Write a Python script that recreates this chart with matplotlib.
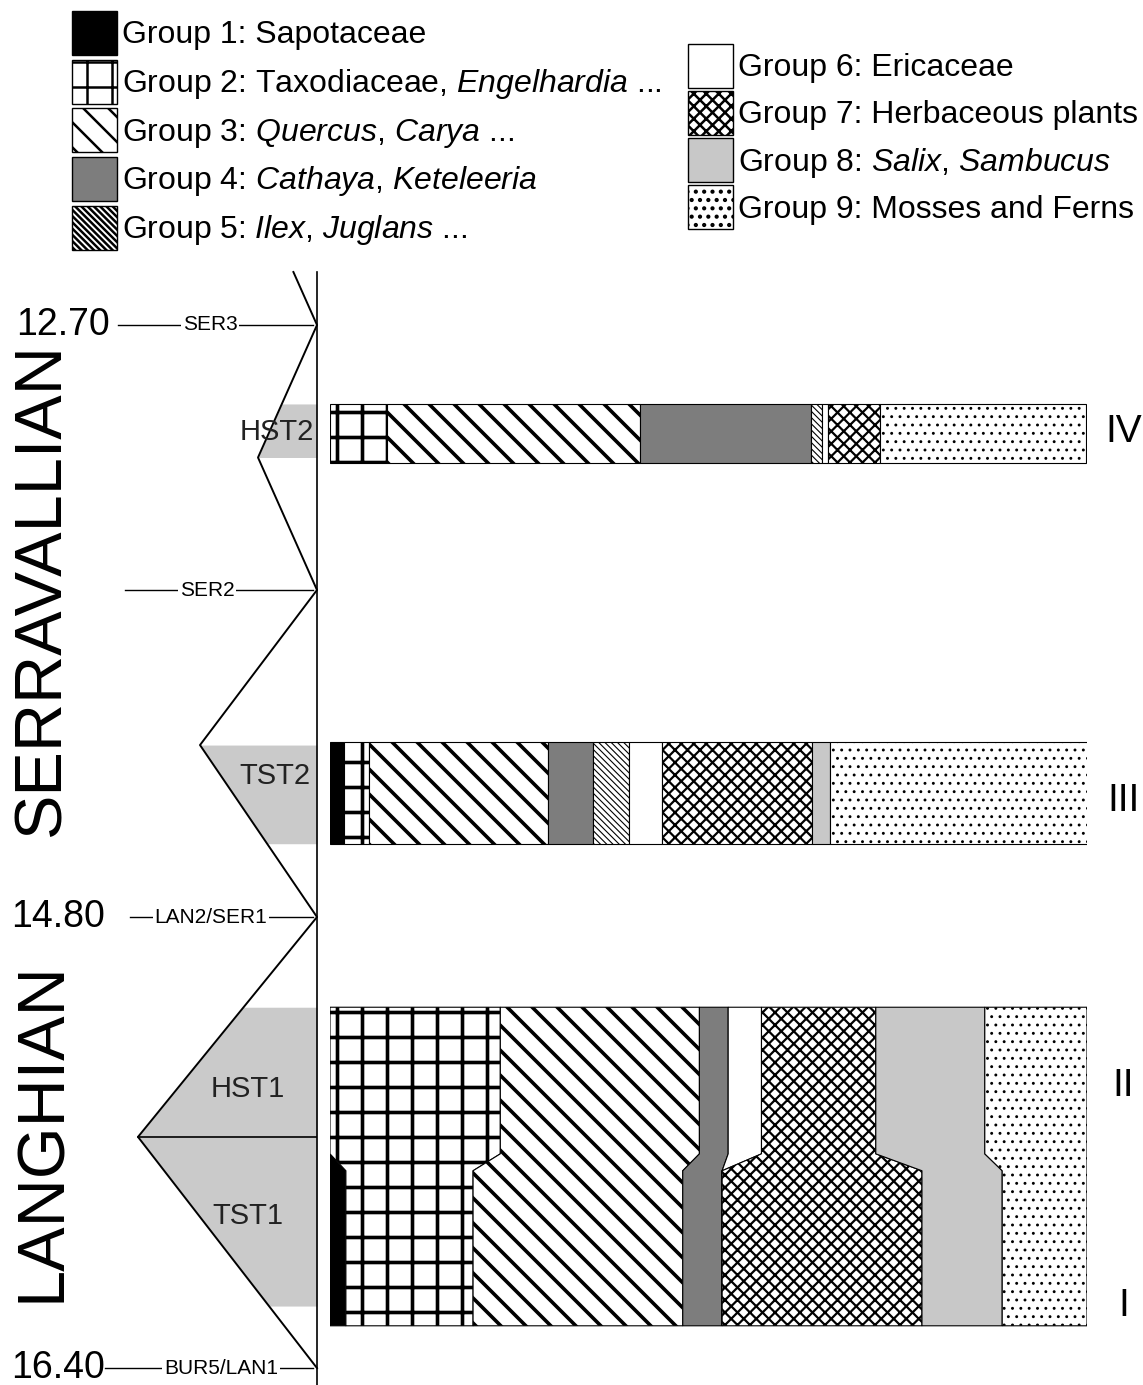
import numpy as np
import matplotlib
matplotlib.use('Agg')
import matplotlib.pyplot as plt
from matplotlib.patches import Polygon, Patch
from matplotlib.backend_bases import GraphicsContextBase

plt.rcParams['font.family'] = 'Liberation Sans'
plt.rcParams['mathtext.fontset'] = 'custom'
plt.rcParams['mathtext.rm'] = 'Liberation Sans'
plt.rcParams['mathtext.it'] = 'Liberation Sans:italic'
plt.rcParams['hatch.linewidth'] = 1.8

# coarser hatching than the default 6 lines per inch
_hatch_path = GraphicsContextBase.get_hatch_path
GraphicsContextBase.get_hatch_path = lambda self, density=4.0: _hatch_path(self, density)

# pollen groups
groups = ['Group 1: Sapotaceae',
          'Group 2: Taxodiaceae, $\\it{Engelhardia}$ ...',
          'Group 3: $\\it{Quercus}$, $\\it{Carya}$ ...',
          'Group 4: $\\it{Cathaya}$, $\\it{Keteleeria}$',
          'Group 5: $\\it{Ilex}$, $\\it{Juglans}$ ...',
          'Group 6: Ericaceae',
          'Group 7: Herbaceous plants',
          'Group 8: $\\it{Salix}$, $\\it{Sambucus}$',
          'Group 9: Mosses and Ferns']

# percentage of each group per pollen zone
zone_iv = [0, 7.5, 33.4, 22.6, 1.5, 0.8, 6.8, 0, 27.3]
zone_iii = [1.9, 3.3, 23.6, 6.0, 4.7, 4.4, 19.8, 2.4, 34.0]
zone_ii = [0, 22.5, 26.3, 3.8, 0, 4.4, 15.1, 14.4, 13.5]
zone_i = [2.1, 16.8, 27.7, 5.2, 0, 0, 26.4, 10.6, 11.2]
zone_names = ['IV', 'III', 'II', 'I']

# age spans (Ma) of the zones
iv_span = (12.98, 13.19)
iii_span = (14.18, 14.54)
ii_i_span = (15.12, 15.64, 15.70, 16.25)   # top, II->I change start, end, base

# sequence stratigraphy
seq_bounds = [12.70, 13.64, 14.80, 16.40]
seq_names = ['SER3', 'SER2', 'LAN2/SER1', 'BUR5/LAN1']
seq_ages = ['12.70', '', '14.80', '16.40']
mfs_ages = [13.17, 14.19, 15.58]
tracts = ['HST2', 'TST2', 'HST1', 'TST1']
tract_spans = [(12.98, 13.17), (14.19, 14.54), (15.12, 15.58), (15.58, 16.18)]
stages = ['SERRAVALLIAN', 'LANGHIAN']
stage_mid = [13.64, 15.56]

fills = ['black', 'white', 'white', '#7d7d7d', 'white', 'white', 'white', '#c8c8c8', 'white']
hatches = [None, '+', '\\\\', None, '\\' * 8, None, 'xxxx', None, '...']
hatch_lw = [1, 2.6, 2.6, 1, 0.8, 1, 1.6, 1, 0.9]


def style(p, g, lw=0.8):
    p.set_facecolor(fills[g])
    p.set_edgecolor('black')
    p.set_linewidth(lw)
    if hatches[g]:
        p.set_hatch(hatches[g])
        if hasattr(p, 'set_hatch_linewidth'):
            p.set_hatch_linewidth(hatch_lw[g])
    return p


def edges(vals):
    right = np.cumsum(vals)
    return right - np.asarray(vals), right


W, H = 1143, 1385
fig = plt.figure(figsize=(W / 100, H / 100), dpi=100)
ylim = (16.46, 12.512)
ax_h = (H - 272) / H
ax_col = fig.add_axes([0, 0, 317 / W, ax_h])
ax_bar = fig.add_axes([330 / W, 0, 757 / W, ax_h])
for ax in (ax_col, ax_bar):
    ax.set_ylim(*ylim)
    ax.axis('off')
ax_col.set_xlim(-317, 0)
ax_bar.set_xlim(0, 100)

# --- stratigraphic column ---
depth = [-59, -117, -179]
saw_age = [ylim[1]] + sorted(seq_bounds + mfs_ages)
saw_x = [-(12.70 - ylim[1]) * 59 / (13.17 - 12.70)] + [0, depth[0], 0, depth[1], 0, depth[2], 0]

for (a0, a1) in tract_spans:
    yy = np.linspace(a0, a1, 60)
    ax_col.fill_betweenx(yy, np.interp(yy, saw_age, saw_x), 0, color='#cacaca', lw=0)

ax_col.plot(saw_x, saw_age, color='black', lw=1.4, clip_on=False)
ax_col.plot([0, 0], ylim, color='black', lw=1.2, clip_on=False)
ax_col.plot([depth[2], 0], [mfs_ages[2]] * 2, color='black', lw=1.2)

tract_x = [-40, -42, -69, -69]
tract_y = [13.08, 14.30, 15.41, 15.86]
for name, x, y in zip(tracts, tract_x, tract_y):
    ax_col.text(x, y, name, ha='center', va='center', fontsize=21, color='#222222')

line_x0 = [-199, -192, -187, -212]
label_x = [-107, -110, -106, -96]
age_x = [-207, 0, -212, -212]
for b, name, age, x0, lx, ageX in zip(seq_bounds, seq_names, seq_ages, line_x0, label_x, age_x):
    ax_col.plot([x0, -4], [b, b], color='black', lw=1.0)
    ax_col.text(lx, b, name, ha='center', va='center', fontsize=15,
                bbox=dict(fc='white', ec='none', pad=1.5))
    if age:
        ax_col.text(ageX, b, age, ha='right', va='center', fontsize=27)

for name, y in zip(stages, stage_mid):
    ax_col.text(-274, y, name, rotation=90, ha='center', va='center', fontsize=48)

# --- pollen zone bars ---
for vals, (a0, a1) in [(zone_iv, iv_span), (zone_iii, iii_span)]:
    left, right = edges(vals)
    for g in range(9):
        if vals[g] <= 0:
            continue
        bar = ax_bar.barh((a0 + a1) / 2, vals[g], height=a1 - a0, left=left[g])
        style(bar.patches[0], g)

l2, r2 = edges(zone_ii)
l1, r1 = edges(zone_i)
top, c0, c1, base = ii_i_span
for g in range(9):
    if zone_ii[g] == 0 and zone_i[g] == 0:
        continue
    verts = [(l2[g], top), (l2[g], c0), (l1[g], c1), (l1[g], base),
             (r1[g], base), (r1[g], c1), (r2[g], c0), (r2[g], top)]
    ax_bar.add_patch(style(Polygon(verts, closed=True), g))

zone_y = [13.08, 14.39, 15.40, 16.18]
for name, y in zip(zone_names, zone_y):
    ax_bar.text(104.8, y, name, ha='center', va='center', fontsize=28)

# --- legend ---
handles = [style(Patch(), g, lw=1.0) for g in range(9)]
common = dict(frameon=False, fontsize=23, handlelength=1.4, handleheight=1.75,
              handletextpad=0.15, labelspacing=0.14, borderpad=0, borderaxespad=0,
              loc='upper left')
leg1 = fig.legend(handles[:5], groups[:5], bbox_to_anchor=(72 / W, 1 - 11 / H), **common)
common['labelspacing'] = 0.09
leg2 = fig.legend(handles[5:], groups[5:], bbox_to_anchor=(688 / W, 1 - 44 / H), **common)

fig.savefig('out.png', dpi=100)
